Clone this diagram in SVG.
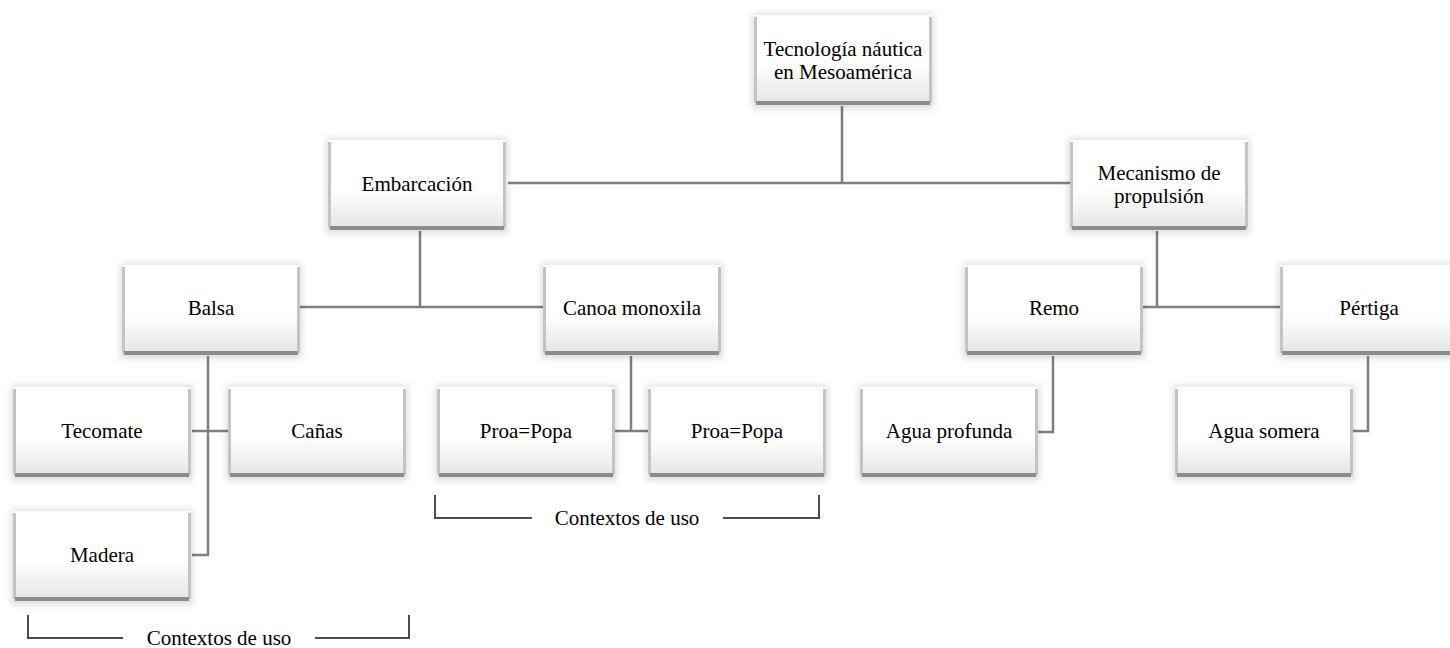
<svg xmlns="http://www.w3.org/2000/svg" width="1450" height="648" viewBox="0 0 1450 648">
<style>
.t{font-family:"Liberation Serif","Times New Roman",serif;font-size:21px;fill:#000;text-anchor:middle}
.c{fill:none;stroke:#7f7f7f;stroke-width:2.5}
.b{stroke:#4d4d4d;stroke-width:2;fill:none}
.face{fill:url(#g)}
.side{fill:#c4c4c4}
.bot{fill:#8c8c8c}
</style>
<defs>
<linearGradient id="g" x1="0" y1="0" x2="0" y2="1">
<stop offset="0" stop-color="#ffffff"/>
<stop offset="0.55" stop-color="#ffffff"/>
<stop offset="1" stop-color="#e3e3e3"/>
</linearGradient>
<filter id="sh" x="-10%" y="-15%" width="120%" height="130%">
<feGaussianBlur stdDeviation="3"/>
</filter>
<g id="box">
<rect x="-2" y="-2" width="182" height="96" fill="#000" opacity="0.12" filter="url(#sh)"/>
<rect x="0" y="0" width="178" height="91" class="face"/>
<rect x="0" y="2" width="3" height="86" class="side"/>
<rect x="175" y="2" width="3" height="86" class="side"/>
<rect x="2" y="86" width="174" height="4" class="bot"/>
</g>
</defs>
<rect width="1450" height="648" fill="#fff"/>
<g id="connectors">
<path class="c" d="M842 106V183M508 183H1070"/>
<path class="c" d="M420 229V307M298 307H543"/>
<path class="c" d="M1157 229V307M1142 307H1280"/>
<path class="c" d="M208 355V555H192M192 431H228"/>
<path class="c" d="M631 355V431M614 431H648"/>
<path class="c" d="M1053 355V432H1035"/>
<path class="c" d="M1368 355V431H1352"/>
</g>
<g id="n-tecnologia"><use href="#box" x="754" y="15"/><text class="t" x="843" y="56">Tecnología náutica</text><text class="t" x="843" y="79">en Mesoamérica</text></g>
<g id="n-embarcacion"><use href="#box" x="328" y="140"/><text class="t" x="417" y="191">Embarcación</text></g>
<g id="n-mecanismo"><use href="#box" x="1070" y="140"/><text class="t" x="1159" y="180">Mecanismo de</text><text class="t" x="1159" y="203">propulsión</text></g>
<g id="n-balsa"><use href="#box" x="122" y="265"/><text class="t" x="211" y="315">Balsa</text></g>
<g id="n-canoa"><use href="#box" x="543" y="265"/><text class="t" x="632" y="315">Canoa monoxila</text></g>
<g id="n-remo"><use href="#box" x="965" y="265"/><text class="t" x="1054" y="315">Remo</text></g>
<g id="n-pertiga"><use href="#box" x="1280" y="265"/><text class="t" x="1369" y="315">Pértiga</text></g>
<g id="n-tecomate"><use href="#box" x="13" y="387"/><text class="t" x="102" y="438">Tecomate</text></g>
<g id="n-canas"><use href="#box" x="228" y="387"/><text class="t" x="317" y="438">Cañas</text></g>
<g id="n-madera"><use href="#box" x="13" y="511"/><text class="t" x="102" y="562">Madera</text></g>
<g id="n-proa1"><use href="#box" x="437" y="387"/><text class="t" x="526" y="438">Proa=Popa</text></g>
<g id="n-proa2"><use href="#box" x="648" y="387"/><text class="t" x="737" y="438">Proa=Popa</text></g>
<g id="n-agua-profunda"><use href="#box" x="860" y="387"/><text class="t" x="949" y="438">Agua profunda</text></g>
<g id="n-agua-somera"><use href="#box" x="1175" y="387"/><text class="t" x="1264" y="438">Agua somera</text></g>
<g id="brackets">
<path class="b" d="M28 615V638H123M315 638H409V615"/>
<text class="t" x="219" y="645">Contextos de uso</text>
<path class="b" d="M435 495V518H532M723 518H819V495"/>
<text class="t" x="627" y="525">Contextos de uso</text>
</g>
</svg>
